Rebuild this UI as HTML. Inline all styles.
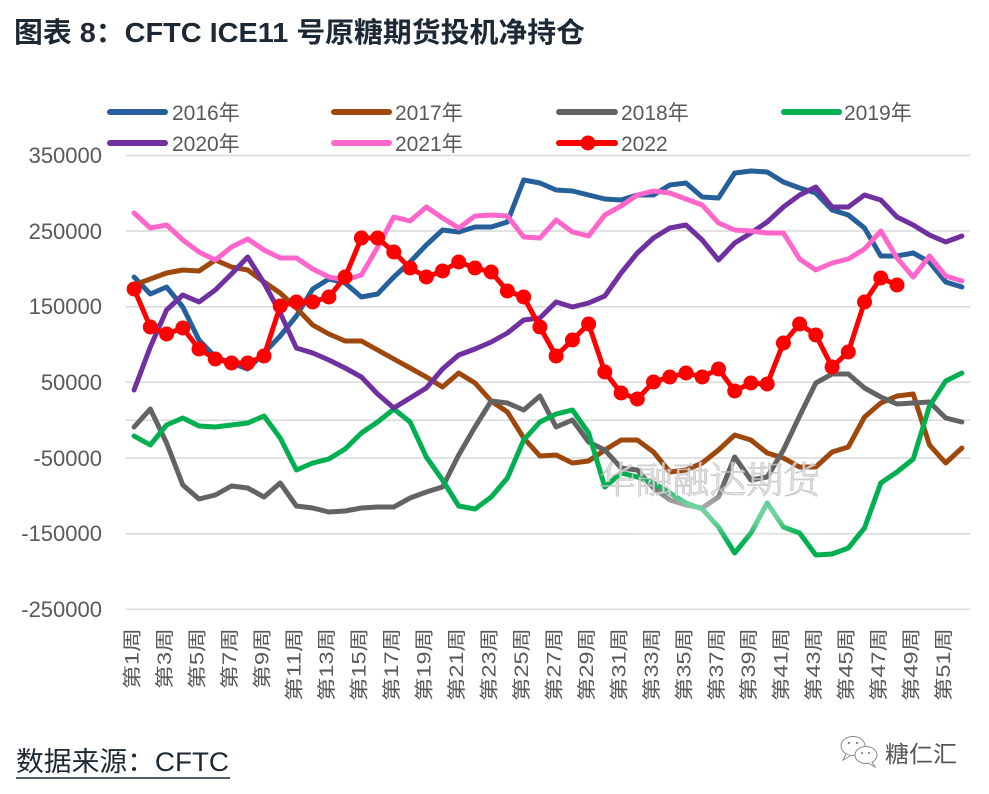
<!DOCTYPE html>
<html>
<head>
<meta charset="utf-8">
<style>
html,body{margin:0;padding:0;background:#fff;}
svg{display:block;}
</style>
</head>
<body>
<svg width="989" height="794" viewBox="0 0 989 794" xmlns="http://www.w3.org/2000/svg">
<defs>
<filter id="blur" x="-20%" y="-50%" width="140%" height="200%"><feGaussianBlur stdDeviation="8"/></filter>
</defs>
<rect width="989" height="794" fill="#fff"/>
<!-- Title -->
<text x="14" y="42" font-family="'Liberation Sans','Noto Sans CJK SC',sans-serif" font-size="28" font-weight="bold" fill="#1c2833" textLength="571" lengthAdjust="spacingAndGlyphs">图表 8：CFTC ICE11 号原糖期货投机净持仓</text>

<!-- Legend -->
<g font-family="'Liberation Sans','Noto Sans CJK SC',sans-serif" font-size="21" fill="#595959">
<line x1="110" y1="112" x2="165" y2="112" stroke="#26609A" stroke-width="6" stroke-linecap="round"/>
<text x="172" y="120">2016年</text>
<line x1="334" y1="112" x2="389" y2="112" stroke="#9E480E" stroke-width="6" stroke-linecap="round"/>
<text x="395" y="120">2017年</text>
<line x1="559" y1="112" x2="615" y2="112" stroke="#636363" stroke-width="6" stroke-linecap="round"/>
<text x="621" y="120">2018年</text>
<line x1="784" y1="112" x2="839" y2="112" stroke="#00B050" stroke-width="6" stroke-linecap="round"/>
<text x="844" y="120">2019年</text>
<line x1="110" y1="143" x2="165" y2="143" stroke="#7030A0" stroke-width="6" stroke-linecap="round"/>
<text x="172" y="151">2020年</text>
<line x1="334" y1="143" x2="389" y2="143" stroke="#FF66CC" stroke-width="6" stroke-linecap="round"/>
<text x="395" y="151">2021年</text>
<line x1="559" y1="143" x2="615" y2="143" stroke="#FF0000" stroke-width="6" stroke-linecap="round"/>
<circle cx="588" cy="143" r="7.5" fill="#FF0000"/>
<text x="621" y="151">2022</text>
</g>

<!-- Gridlines -->
<g stroke="#d9d9d9" stroke-width="1.5">
<line x1="126" y1="155.5" x2="970" y2="155.5"/>
<line x1="126" y1="231" x2="970" y2="231"/>
<line x1="126" y1="306.7" x2="970" y2="306.7"/>
<line x1="126" y1="382.3" x2="970" y2="382.3"/>
<line x1="126" y1="420.3" x2="970" y2="420.3"/>
<line x1="126" y1="458" x2="970" y2="458"/>
<line x1="126" y1="533.7" x2="970" y2="533.7"/>
<line x1="126" y1="609.4" x2="970" y2="609.4"/>
</g>

<!-- Y labels -->
<g font-family="'Liberation Sans',sans-serif" font-size="22" fill="#595959" text-anchor="end">
<text x="102" y="163">350000</text>
<text x="102" y="239">250000</text>
<text x="102" y="314">150000</text>
<text x="102" y="390">50000</text>
<text x="102" y="466">-50000</text>
<text x="102" y="541">-150000</text>
<text x="102" y="617">-250000</text>
</g>

<!-- X labels -->
<g font-family="'Liberation Sans','Noto Sans CJK SC',sans-serif" font-size="19" fill="#595959" text-anchor="end">
<text transform="translate(138.4,628) rotate(-90)" textLength="61" lengthAdjust="spacingAndGlyphs">第1周</text>
<text transform="translate(170.9,628) rotate(-90)" textLength="61" lengthAdjust="spacingAndGlyphs">第3周</text>
<text transform="translate(203.3,628) rotate(-90)" textLength="61" lengthAdjust="spacingAndGlyphs">第5周</text>
<text transform="translate(235.8,628) rotate(-90)" textLength="61" lengthAdjust="spacingAndGlyphs">第7周</text>
<text transform="translate(268.3,628) rotate(-90)" textLength="61" lengthAdjust="spacingAndGlyphs">第9周</text>
<text transform="translate(300.7,628) rotate(-90)" textLength="73" lengthAdjust="spacingAndGlyphs">第11周</text>
<text transform="translate(333.2,628) rotate(-90)" textLength="73" lengthAdjust="spacingAndGlyphs">第13周</text>
<text transform="translate(365.7,628) rotate(-90)" textLength="73" lengthAdjust="spacingAndGlyphs">第15周</text>
<text transform="translate(398.1,628) rotate(-90)" textLength="73" lengthAdjust="spacingAndGlyphs">第17周</text>
<text transform="translate(430.6,628) rotate(-90)" textLength="73" lengthAdjust="spacingAndGlyphs">第19周</text>
<text transform="translate(463.0,628) rotate(-90)" textLength="73" lengthAdjust="spacingAndGlyphs">第21周</text>
<text transform="translate(495.5,628) rotate(-90)" textLength="73" lengthAdjust="spacingAndGlyphs">第23周</text>
<text transform="translate(528.0,628) rotate(-90)" textLength="73" lengthAdjust="spacingAndGlyphs">第25周</text>
<text transform="translate(560.4,628) rotate(-90)" textLength="73" lengthAdjust="spacingAndGlyphs">第27周</text>
<text transform="translate(592.9,628) rotate(-90)" textLength="73" lengthAdjust="spacingAndGlyphs">第29周</text>
<text transform="translate(625.4,628) rotate(-90)" textLength="73" lengthAdjust="spacingAndGlyphs">第31周</text>
<text transform="translate(657.8,628) rotate(-90)" textLength="73" lengthAdjust="spacingAndGlyphs">第33周</text>
<text transform="translate(690.3,628) rotate(-90)" textLength="73" lengthAdjust="spacingAndGlyphs">第35周</text>
<text transform="translate(722.8,628) rotate(-90)" textLength="73" lengthAdjust="spacingAndGlyphs">第37周</text>
<text transform="translate(755.2,628) rotate(-90)" textLength="73" lengthAdjust="spacingAndGlyphs">第39周</text>
<text transform="translate(787.7,628) rotate(-90)" textLength="73" lengthAdjust="spacingAndGlyphs">第41周</text>
<text transform="translate(820.1,628) rotate(-90)" textLength="73" lengthAdjust="spacingAndGlyphs">第43周</text>
<text transform="translate(852.6,628) rotate(-90)" textLength="73" lengthAdjust="spacingAndGlyphs">第45周</text>
<text transform="translate(885.1,628) rotate(-90)" textLength="73" lengthAdjust="spacingAndGlyphs">第47周</text>
<text transform="translate(917.5,628) rotate(-90)" textLength="73" lengthAdjust="spacingAndGlyphs">第49周</text>
<text transform="translate(950.0,628) rotate(-90)" textLength="73" lengthAdjust="spacingAndGlyphs">第51周</text>
</g>

<!-- Series -->
<g fill="none" stroke-width="5" stroke-linejoin="round" stroke-linecap="round">
<polyline stroke="#26609A" points="134.1,277 150.3,294 166.6,287 182.8,307 199,340 215.3,357 231.5,363 247.7,369 264,353 280.2,336 296.4,316 312.7,289 328.9,279 345.1,283 361.4,297 377.6,294 393.8,277 410.1,262 426.3,245 442.5,230 458.7,232 475,227 491.2,227 507.4,222 523.7,180 539.9,183 556.1,190 572.4,191 588.6,195 604.8,199 621.1,200 637.3,195 653.5,195 669.8,185 686,183 702.2,197 718.5,198 734.7,173 750.9,171 767.2,172 783.4,182 799.6,188 815.8,193 832.1,210 848.3,215 864.5,228 880.8,256 897,256 913.2,253 929.5,262 945.7,282 961.9,287"/>
<polyline stroke="#9E480E" points="134.1,285 150.3,279 166.6,273 182.8,270 199,271 215.3,260 231.5,267 247.7,270 264,282 280.2,293 296.4,308 312.7,325 328.9,334 345.1,341 361.4,341 377.6,350 393.8,359 410.1,368 426.3,377 442.5,387 458.7,373 475,383 491.2,401 507.4,412 523.7,438 539.9,456 556.1,455 572.4,463 588.6,461 604.8,450 621.1,440 637.3,440 653.5,452 669.8,472 686,470 702.2,463 718.5,450 734.7,435 750.9,440 767.2,453 783.4,458 799.6,467 815.8,467 832.1,452 848.3,447 864.5,417 880.8,403 897,396 913.2,394 929.5,445 945.7,463 961.9,448"/>
<polyline stroke="#636363" points="134.1,427 150.3,409 166.6,443 182.8,485 199,499 215.3,495 231.5,486 247.7,488 264,497 280.2,483 296.4,506 312.7,508 328.9,512 345.1,511 361.4,508 377.6,507 393.8,507 410.1,498 426.3,492 442.5,487 458.7,455 475,427 491.2,401 507.4,403 523.7,410 539.9,396 556.1,427 572.4,420 588.6,442 604.8,450 621.1,468 637.3,470 653.5,488 669.8,500 686,505 702.2,508 718.5,497 734.7,457 750.9,480 767.2,477 783.4,450 799.6,416 815.8,383 832.1,374 848.3,374 864.5,388 880.8,397 897,404 913.2,403 929.5,402 945.7,418 961.9,422"/>
<polyline stroke="#00B050" points="134.1,436 150.3,445 166.6,425 182.8,418 199,426 215.3,427 231.5,425 247.7,423 264,416 280.2,438 296.4,470 312.7,463 328.9,459 345.1,449 361.4,433 377.6,422 393.8,409 410.1,422 426.3,457 442.5,480 458.7,506 475,509 491.2,497 507.4,478 523.7,440 539.9,422 556.1,414 572.4,410 588.6,433 604.8,487 621.1,473 637.3,477 653.5,483 669.8,493 686,503 702.2,509 718.5,527 734.7,553 750.9,533 767.2,503 783.4,527 799.6,533 815.8,555 832.1,554 848.3,548 864.5,528 880.8,483 897,472 913.2,459 929.5,406 945.7,381 961.9,373"/>
<polyline stroke="#7030A0" points="134.1,390 150.3,347 166.6,310 182.8,295 199,302 215.3,290 231.5,274 247.7,257 264,283 280.2,313 296.4,348 312.7,353 328.9,360 345.1,368 361.4,377 377.6,394 393.8,408 410.1,398 426.3,388 442.5,369 458.7,355 475,349 491.2,342 507.4,333 523.7,320 539.9,318 556.1,302 572.4,307 588.6,303 604.8,296 621.1,273 637.3,253 653.5,238 669.8,228 686,225 702.2,240 718.5,260 734.7,243 750.9,233 767.2,222 783.4,207 799.6,195 815.8,187 832.1,207 848.3,207 864.5,195 880.8,200 897,217 913.2,225 929.5,235 945.7,242 961.9,236"/>
<polyline stroke="#FF66CC" points="134.1,213 150.3,228 166.6,225 182.8,240 199,252 215.3,260 231.5,247 247.7,239 264,250 280.2,258 296.4,258 312.7,269 328.9,277 345.1,280 361.4,275 377.6,247 393.8,217 410.1,221 426.3,207 442.5,218 458.7,228 475,216 491.2,215 507.4,216 523.7,237 539.9,238 556.1,220 572.4,232 588.6,236 604.8,215 621.1,206 637.3,195 653.5,191 669.8,193 686,199 702.2,205 718.5,223 734.7,230 750.9,231 767.2,233 783.4,233 799.6,259 815.8,270 832.1,263 848.3,259 864.5,249 880.8,231 897,258 913.2,277 929.5,256 945.7,276 961.9,281"/>
<polyline stroke="#FF0000" points="134.1,289 150.3,327 166.6,334 182.8,328 199,349 215.3,359 231.5,363 247.7,363 264,356 280.2,306 296.4,302 312.7,302 328.9,297 345.1,277 361.4,238 377.6,238 393.8,252 410.1,268 426.3,277 442.5,271 458.7,262 475,268 491.2,272 507.4,291 523.7,297 539.9,327 556.1,356 572.4,340 588.6,324 604.8,372 621.1,393 637.3,399 653.5,382 669.8,377 686,373 702.2,377 718.5,369 734.7,391 750.9,383 767.2,384 783.4,343 799.6,324 815.8,335 832.1,367 848.3,352 864.5,302 880.8,278 897,285"/>
</g>
<g fill="#FF0000">
<circle cx="134.1" cy="289" r="7.5"/><circle cx="150.3" cy="327" r="7.5"/><circle cx="166.6" cy="334" r="7.5"/><circle cx="182.8" cy="328" r="7.5"/><circle cx="199" cy="349" r="7.5"/><circle cx="215.3" cy="359" r="7.5"/><circle cx="231.5" cy="363" r="7.5"/><circle cx="247.7" cy="363" r="7.5"/><circle cx="264" cy="356" r="7.5"/><circle cx="280.2" cy="306" r="7.5"/><circle cx="296.4" cy="302" r="7.5"/><circle cx="312.7" cy="302" r="7.5"/><circle cx="328.9" cy="297" r="7.5"/><circle cx="345.1" cy="277" r="7.5"/><circle cx="361.4" cy="238" r="7.5"/><circle cx="377.6" cy="238" r="7.5"/><circle cx="393.8" cy="252" r="7.5"/><circle cx="410.1" cy="268" r="7.5"/><circle cx="426.3" cy="277" r="7.5"/><circle cx="442.5" cy="271" r="7.5"/><circle cx="458.7" cy="262" r="7.5"/><circle cx="475" cy="268" r="7.5"/><circle cx="491.2" cy="272" r="7.5"/><circle cx="507.4" cy="291" r="7.5"/><circle cx="523.7" cy="297" r="7.5"/><circle cx="539.9" cy="327" r="7.5"/><circle cx="556.1" cy="356" r="7.5"/><circle cx="572.4" cy="340" r="7.5"/><circle cx="588.6" cy="324" r="7.5"/><circle cx="604.8" cy="372" r="7.5"/><circle cx="621.1" cy="393" r="7.5"/><circle cx="637.3" cy="399" r="7.5"/><circle cx="653.5" cy="382" r="7.5"/><circle cx="669.8" cy="377" r="7.5"/><circle cx="686" cy="373" r="7.5"/><circle cx="702.2" cy="377" r="7.5"/><circle cx="718.5" cy="369" r="7.5"/><circle cx="734.7" cy="391" r="7.5"/><circle cx="750.9" cy="383" r="7.5"/><circle cx="767.2" cy="384" r="7.5"/><circle cx="783.4" cy="343" r="7.5"/><circle cx="799.6" cy="324" r="7.5"/><circle cx="815.8" cy="335" r="7.5"/><circle cx="832.1" cy="367" r="7.5"/><circle cx="848.3" cy="352" r="7.5"/><circle cx="864.5" cy="302" r="7.5"/><circle cx="880.8" cy="278" r="7.5"/><circle cx="897" cy="285" r="7.5"/>
</g>

<!-- Watermark -->
<ellipse cx="712" cy="512" rx="110" ry="20" fill="#fff" opacity="0.45" filter="url(#blur)"/>
<text x="599" y="493" font-family="'Noto Serif CJK SC','Noto Sans CJK SC',serif" font-size="37" fill="#dcdcdc" stroke="#b5b5b5" stroke-width="0.6" opacity="0.85" textLength="221" lengthAdjust="spacingAndGlyphs">华融融达期货</text>

<!-- Footer -->
<text x="16" y="771" font-family="'Liberation Sans','Noto Sans CJK SC',sans-serif" font-size="27" fill="#1c2833" textLength="213" lengthAdjust="spacingAndGlyphs">数据来源：CFTC</text>
<line x1="16" y1="778" x2="230" y2="778" stroke="#1c2833" stroke-width="1.5"/>

<!-- WeChat icon -->
<g fill="#fff" stroke="#8a8a8a" stroke-width="1">
<ellipse cx="853" cy="746" rx="12" ry="9.5"/>
<path d="M846 754 L843 760 L850 756" />
<ellipse cx="866" cy="755" rx="11" ry="8.5"/>
<path d="M872 762 L875 767 L868 763" />
</g>
<g fill="#8a8a8a">
<circle cx="849" cy="743" r="1.2"/><circle cx="857" cy="743" r="1.2"/>
<circle cx="862" cy="753" r="1.1"/><circle cx="869" cy="753" r="1.1"/>
</g>
<text x="885" y="762" font-family="'Noto Sans CJK SC',sans-serif" font-size="23" fill="#555" textLength="72" lengthAdjust="spacingAndGlyphs">糖仁汇</text>
</svg>
</body>
</html>
